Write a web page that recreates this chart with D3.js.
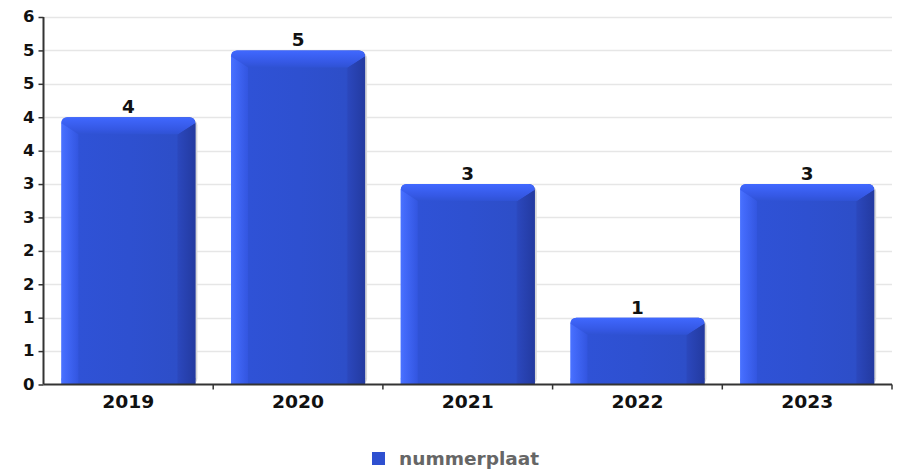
<!DOCTYPE html>
<html><head><meta charset="utf-8">
<script src="https://cdn.jsdelivr.net/npm/d3@7"></script>
<style>body{margin:0;background:#fff}svg{display:block}</style>
</head><body><svg id="c" width="901" height="470"></svg>
<script>
const categories = ["2019","2020","2021","2022","2023"];
const values = [4,5,3,1,3];
const seriesName = "nummerplaat";
const yTicks = [0,0.5,1,1.5,2,2.5,3,3.5,4,4.5,5,5.5];

const svg = d3.select("#c");
const L = 43.5, R = 892, T = 17, B = 384.5;
const x = d3.scaleBand().domain(categories).range([L, R]).padding(0);
const y = d3.scaleLinear().domain([0, 5.5]).range([B, T]);
const font = "'DejaVu Sans', sans-serif";

function stretch(sel, k){
  sel.each(function(){
    const w = this.getComputedTextLength();
    d3.select(this).attr("textLength", w*k).attr("lengthAdjust","spacingAndGlyphs");
  });
}

const defs = svg.append("defs");
const gH = defs.append("linearGradient").attr("id","gh").attr("x1","0").attr("x2","1").attr("y1","0").attr("y2","0");
[[0,"#4a72ff"],[0.03,"#3f66fb"],[0.13,"#2f52d6"],[0.5,"#2e50d0"],[0.86,"#2d4ec8"],[0.88,"#2944b6"],[1,"#23389a"]].forEach(s=>gH.append("stop").attr("offset",s[0]).attr("stop-color",s[1]));
const gT = defs.append("linearGradient").attr("id","gt").attr("x1","0").attr("x2","0").attr("y1","0").attr("y2","1");
[[0,"#4068ff"],[0.7,"#3558e4"],[1,"#2f52d4"]].forEach(s=>gT.append("stop").attr("offset",s[0]).attr("stop-color",s[1]));
const gR = defs.append("linearGradient").attr("id","gr").attr("x1","0").attr("x2","1").attr("y1","0").attr("y2","0");
[[0,"#2b47bc"],[1,"#233aa0"]].forEach(s=>gR.append("stop").attr("offset",s[0]).attr("stop-color",s[1]));
const gL = defs.append("linearGradient").attr("id","gl").attr("x1","0").attr("x2","1").attr("y1","0").attr("y2","0");
[[0,"#4a72ff"],[1,"#3558e6"]].forEach(s=>gL.append("stop").attr("offset",s[0]).attr("stop-color",s[1]));

// gridlines
svg.append("g").selectAll("line").data(yTicks.filter(d=>d>0)).join("line")
  .attr("x1", L+1).attr("x2", R).attr("y1", d=>Math.round(y(d))+0.5).attr("y2", d=>Math.round(y(d))+0.5)
  .attr("stroke","#e6e6e6").attr("stroke-width",1.5);

// bars
const bw = x.bandwidth()*0.79;
const bars = svg.append("g").selectAll("g").data(categories.map((c,i)=>({c, v: values[i]}))).join("g")
  .attr("transform", d=>`translate(${x(d.c)+(x.bandwidth()-bw)/2},0)`);
const bev = 17, rr = 6;
bars.each(function(d){
  const g = d3.select(this);
  const top = y(d.v), h = B - top;
  g.append("rect").attr("x",2).attr("y",top+2).attr("width",bw).attr("height",h-2).attr("rx",rr).attr("fill","#d8d8d8");
  g.append("rect").attr("x",0).attr("y",top).attr("width",bw).attr("height",h).attr("rx",rr).attr("fill","url(#gh)");
  g.append("rect").attr("x",0).attr("y",top+h-rr).attr("width",bw).attr("height",rr).attr("fill","url(#gh)");
  g.append("path").attr("d",`M${rr},${top} L${bw-rr},${top} Q${bw},${top} ${bw},${top+rr} L${bw-bev},${top+bev} L${bev},${top+bev} L0,${top+rr} Q0,${top} ${rr},${top} Z`).attr("fill","url(#gt)");
  g.append("path").attr("d",`M0,${top+rr} L${bev},${top+bev} L${bev},${B} L0,${B} Z`).attr("fill","url(#gl)").attr("opacity",0.6);
  g.append("path").attr("d",`M${bw},${top+rr} L${bw-bev},${top+bev} L${bw-bev},${B} L${bw},${B} Z`).attr("fill","url(#gr)");
  g.append("text").attr("class","vlab").attr("x",bw/2).attr("y",top-4).attr("text-anchor","middle")
   .attr("font-family",font).attr("font-weight","bold").attr("font-size",17).attr("fill","#111").text(d.v);
});
stretch(svg.selectAll(".vlab"), 1.08);

// axes
const yAxis = d3.axisLeft(y).tickValues(yTicks).tickSize(5).tickFormat(d=>Math.floor(d+0.5));
const ya = svg.append("g").attr("transform",`translate(${L},0)`).call(yAxis);
ya.select(".domain").attr("stroke","#333").attr("stroke-width",2).attr("d",`M0,${T}V${B}`);
ya.selectAll(".tick line").attr("stroke","#333").attr("stroke-width",1.5);
ya.selectAll("text").attr("font-family",font).attr("font-weight","bold").attr("font-size",15).attr("fill","#111").attr("dx","-1");
stretch(ya.selectAll("text"), 1.1);

const xAxis = d3.axisBottom(x).tickSize(0);
const xa = svg.append("g").attr("transform",`translate(0,${B})`).call(xAxis);
xa.select(".domain").attr("stroke","#333").attr("stroke-width",2).attr("d",`M${L},0H${R}`);
xa.selectAll("text").attr("font-family",font).attr("font-weight","bold").attr("font-size",17).attr("fill","#111").attr("y",23.5).attr("dy",null);
stretch(xa.selectAll("text"), 1.1);
svg.append("g").selectAll("line").data(categories.slice(1).concat(["__end"])).join("line")
  .attr("x1", d=> d==="__end" ? R : x(d)).attr("x2", d=> d==="__end" ? R : x(d))
  .attr("y1", B).attr("y2", B+5).attr("stroke","#333").attr("stroke-width",1.5);

// legend
const lg = svg.append("g").attr("transform","translate(372,452)");
lg.append("rect").attr("width",13).attr("height",13).attr("fill","#2e50d0");
const lt = lg.append("text").attr("x",27).attr("y",13).attr("font-family",font).attr("font-weight","bold").attr("font-size",17).attr("fill","#666").text(seriesName);
stretch(lt, 1.09);
</script></body></html>
